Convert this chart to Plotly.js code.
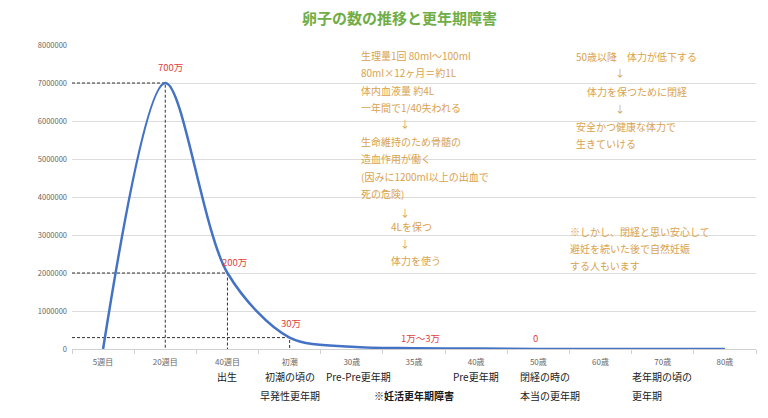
<!DOCTYPE html>
<html>
<head>
<meta charset="utf-8">
<script src="https://cdn.plot.ly/plotly-3.0.1.min.js"></script>
<style>
  html, body { margin: 0; padding: 0; background: #fff; }
  #chart { width: 768px; height: 418px; }
</style>
</head>
<body>
<div id="chart"></div>
<script>
// categories and egg counts
const stages = ['5週目', '20週目', '40週目', '初潮', '30歳', '35歳', '40歳', '50歳', '60歳', '70歳', '80歳'];
const eggCounts = [0, 7000000, 2000000, 300000, 60000, 20000, 10000, 0, 0, 0, 0];
const pointLabels = ['', '700万', '200万', '30万', '', '1万～3万', '', '0', '', '', ''];
const guideIndexes = [1, 2, 3];
const yTicks = [0, 1000000, 2000000, 3000000, 4000000, 5000000, 6000000, 7000000, 8000000];

// notes under the axis: [category index, first line, second line, bold]
const stageNotes = [
  [2, '出生', '', false],
  [3, '初潮の頃の', '早発性更年期', false],
  [4.1, 'Pre-Pre更年期', '', false],
  [5, '', '※妊活更年期障害', true],
  [6, 'Pre更年期', '', false],
  [7, '閉経の時の', '本当の更年期', false],
  [9, '老年期の頃の', '更年期', false]
];

const bloodNotes = ['生理量1回 80ml～100ml', '80ml×12ヶ月＝約1L', '体内血液量 約4L', '一年間で1/40失われる', '↓',
  '生命維持のため骨髄の', '造血作用が働く', '(因みに1200ml以上の出血で', '死の危険)', '↓', '4Lを保つ', '↓', '体力を使う'];
const stamNotes = ['50歳以降　体力が低下する', '↓', '体力を保つために閉経', '↓', '安全かつ健康な体力で', '生きていける'];
const warnNotes = ['※しかし、閉経と思い安心して', '避妊を続いた後で自然妊娠', 'する人もいます'];

const FONT = '"Noto Sans CJK JP", "Noto Sans", sans-serif';
const ORANGE = '#d9a24e';
const RED = '#e0403c';

// plot area in pixels, used to place free text
const L = 72, R = 756, T = 45, B = 349;
const px = x => (x - L) / (R - L);
const py = y => (B - y) / (B - T);

const xs = stages.map((s, i) => i);

const data = [];

// dashed guide lines from the left edge to the point and down to the axis
guideIndexes.forEach(i => {
  data.push({
    x: [-0.5, i, i],
    y: [eggCounts[i], eggCounts[i], 0],
    type: 'scatter',
    mode: 'lines',
    line: {color: '#333', width: 1, dash: '3px,2px'},
    hoverinfo: 'skip'
  });
});

data.push({
  x: xs,
  y: eggCounts,
  type: 'scatter',
  mode: 'lines',
  line: {color: '#4472c4', width: 2.5, shape: 'spline', smoothing: 0.9}
});

const annotations = [];

annotations.push({
  text: '<b>卵子の数の推移と更年期障害</b>',
  xref: 'paper', yref: 'paper', x: px(399), y: py(18), yanchor: 'middle',
  showarrow: false, font: {family: FONT, size: 15, color: '#70ad47'}
});

// red value labels
const labelShift = [[0, 0], [5, 16], [7, 11], [1, 15], [0, 0], [6, 10], [0, 0], [-3, 11]];
pointLabels.forEach((t, i) => {
  if (!t) return;
  annotations.push({
    text: t, x: i, y: eggCounts[i], xref: 'x', yref: 'y',
    xshift: labelShift[i][0], yshift: labelShift[i][1],
    showarrow: false, font: {family: FONT, size: 9.5, color: RED}
  });
});

// black notes under the x axis
stageNotes.forEach(n => {
  const left = n[0] === 7 || n[0] === 9;
  const xpos = n[0] === 7 ? 6.68 : (n[0] === 9 ? 8.48 : n[0]);
  [n[1], n[2]].forEach((t, k) => {
    if (!t) return;
    annotations.push({
      text: n[3] ? '<b>' + t + '</b>' : t,
      x: xpos, y: py(k === 0 ? 376 : 395), xref: 'x', yref: 'paper',
      xanchor: left ? 'left' : 'center', yanchor: 'middle',
      showarrow: false, font: {family: FONT, size: 10, color: '#1a1a1a'}
    });
  });
});

// orange explanation blocks
const bloodY = [55, 73, 90, 107, 124, 141, 158, 176, 193, 212, 227, 243, 260];
bloodNotes.forEach((t, i) => {
  const arrow = t === '↓';
  const indent = (t === '4Lを保つ' || t === '体力を使う');
  annotations.push({
    text: t, xref: 'paper', yref: 'paper',
    x: px(arrow ? 405 : (indent ? 389 : 359)), y: py(bloodY[i]),
    xanchor: arrow ? 'center' : 'left', yanchor: 'middle',
    showarrow: false, font: {family: FONT, size: 10, color: ORANGE}
  });
});

const stamY = [56, 73, 91, 108, 126, 143];
stamNotes.forEach((t, i) => {
  const arrow = t === '↓';
  annotations.push({
    text: t, xref: 'paper', yref: 'paper',
    x: px(arrow ? 620 : (i === 2 ? 585 : 574)), y: py(stamY[i]),
    xanchor: arrow ? 'center' : 'left', yanchor: 'middle',
    showarrow: false, font: {family: FONT, size: 10, color: ORANGE}
  });
});

const warnY = [231, 248, 265];
warnNotes.forEach((t, i) => {
  annotations.push({
    text: t, xref: 'paper', yref: 'paper', x: px(568), y: py(warnY[i]),
    xanchor: 'left', yanchor: 'middle',
    showarrow: false, font: {family: FONT, size: 10, color: ORANGE}
  });
});

const boundaries = stages.map((s, i) => i - 0.5).concat([stages.length - 0.5]);

const layout = {
  width: 768,
  height: 418,
  margin: {l: L, r: 768 - R, t: T, b: 418 - B},
  paper_bgcolor: '#fff',
  plot_bgcolor: '#fff',
  showlegend: false,
  font: {family: FONT},
  xaxis: {
    range: [-0.5, stages.length - 0.5],
    tickmode: 'array',
    tickvals: xs,
    ticktext: stages,
    ticks: '',
    ticklabelstandoff: 5,
    tickfont: {family: FONT, size: 8, color: '#666'},
    showgrid: false,
    zeroline: false,
    showline: true,
    linecolor: '#d0d0d0',
    linewidth: 1,
    minor: {tickmode: 'array', tickvals: boundaries, ticks: 'outside', ticklen: 4, tickcolor: '#d0d0d0', showgrid: false}
  },
  yaxis: {
    range: [0, 8000000],
    tickmode: 'array',
    tickvals: yTicks,
    ticktext: yTicks.map(v => String(v)),
    tickfont: {family: FONT, size: 7.5, color: '#666'},
    gridcolor: '#dcdcdc',
    gridwidth: 1,
    zeroline: false,
    showline: false,
    ticks: '',
    ticklabelstandoff: 4
  },
  annotations: annotations
};

Plotly.newPlot('chart', data, layout, {displayModeBar: false, staticPlot: true});
</script>
</body>
</html>
